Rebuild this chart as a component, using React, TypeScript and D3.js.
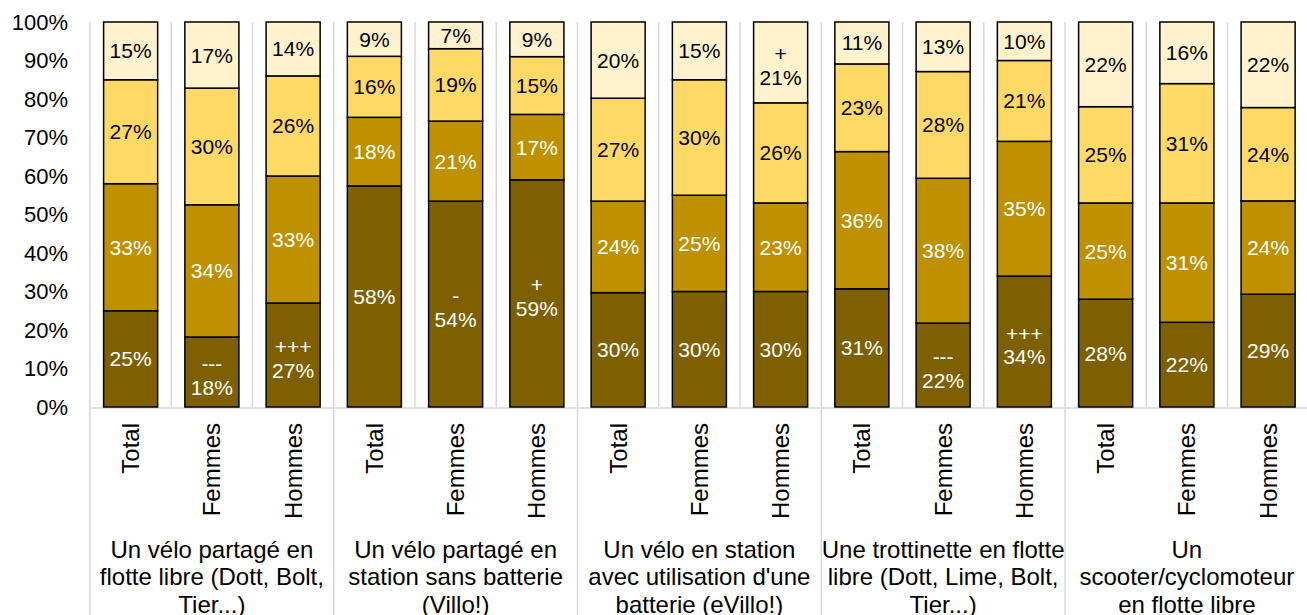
import React from "react";
import * as d3 from "d3";

const categories = ["Total", "Femmes", "Hommes"];
const groups = [
  ["Un vélo partagé en", "flotte libre (Dott, Bolt,", "Tier...)"],
  ["Un vélo partagé en", "station sans batterie", "(Villo!)"],
  ["Un vélo en station", "avec utilisation d'une", "batterie (eVillo!)"],
  ["Une trottinette en flotte", "libre (Dott, Lime, Bolt,", "Tier...)"],
  ["Un", "scooter/cyclomoteur", "en flotte libre"],
];
// series bottom -> top
const series1 = [25, 18, 27, 58, 54, 59, 30, 30, 30, 31, 22, 34, 28, 22, 29];
const series2 = [33, 34, 33, 18, 21, 17, 24, 25, 23, 36, 38, 35, 25, 31, 24];
const series3 = [27, 30, 26, 16, 19, 15, 27, 30, 26, 23, 28, 21, 25, 31, 24];
const series4 = [15, 17, 14, 9, 7, 9, 20, 15, 21, 11, 13, 10, 22, 16, 22];
// significance markers [barIndex, seriesIndex, marker]
const markers: [number, number, string][] = [
  [1, 0, "---"],
  [2, 0, "+++"],
  [4, 0, "-"],
  [5, 0, "+"],
  [8, 3, "+"],
  [10, 0, "---"],
  [11, 0, "+++"],
];
const yTicks = [0, 10, 20, 30, 40, 50, 60, 70, 80, 90, 100];

const colors = ["#7F6000", "#BF9000", "#FFD966", "#FFF2CC"];
const textColors = ["#ffffff", "#ffffff", "#000000", "#000000"];

const W = 1307;
const H = 615;
const left = 90;
const step = 81.25;
const top = 22;
const bottom = 407;
const FONT = "'Liberation Sans', Arial, sans-serif";
const FS = 21;
const FS_Y = 22;
const FS_CAT = 24;

export default function App() {
  const n = series1.length;
  const rows = d3.range(n).map((i) => ({
    i,
    s0: series1[i],
    s1: series2[i],
    s2: series3[i],
    s3: series4[i],
  }));
  const keys = ["s0", "s1", "s2", "s3"];
  const stacked = d3.stack<any>().keys(keys).offset(d3.stackOffsetExpand)(rows);
  const vals = [series1, series2, series3, series4];

  const x = d3
    .scaleBand<number>()
    .domain(d3.range(n))
    .range([left, left + n * step])
    .paddingInner(0.335)
    .paddingOuter(0.1675);
  const y = d3.scaleLinear().domain([0, 1]).range([bottom, top]);

  const markerMap = new Map<string, string>();
  markers.forEach(([b, s, m]) => markerMap.set(`${b}-${s}`, m));

  return (
    <svg
      width={W}
      height={H}
      style={{ position: "absolute", left: 0, top: 0, display: "block", background: "#fff" }}
      fontFamily={FONT}
    >
      {/* vertical gridlines */}
      {d3.range(n + 1).map((k) => (
        <line
          key={"g" + k}
          x1={left + k * step}
          x2={left + k * step}
          y1={top}
          y2={k % 3 === 0 ? H : bottom}
          stroke="#d9d9d9"
          strokeWidth={1.5}
        />
      ))}
      {/* horizontal axis line */}
      <line x1={left} x2={W} y1={bottom + 1} y2={bottom + 1} stroke="#d9d9d9" strokeWidth={1.5} />
      {/* y tick labels */}
      {yTicks.map((t) => (
        <text
          key={"yt" + t}
          x={68}
          y={y(t / 100) + 7.6}
          textAnchor="end"
          fontSize={FS_Y}
          fill="#000"
        >
          {t}%
        </text>
      ))}
      {/* bars */}
      {stacked.map((layer, si) =>
        layer.map((d, bi) => {
          const y0 = y(d[0]);
          const y1 = y(d[1]);
          const bx = x(bi)!;
          const bw = x.bandwidth();
          const cx = bx + bw / 2;
          const cy = (y0 + y1) / 2;
          const m = markerMap.get(`${bi}-${si}`);
          return (
            <g key={`b${si}-${bi}`}>
              <rect
                x={bx}
                y={y1}
                width={bw}
                height={y0 - y1}
                fill={colors[si]}
                stroke="#000"
                strokeWidth={1.5}
              />
              {m ? (
                <text textAnchor="middle" fontSize={FS} fill={textColors[si]}>
                  <tspan x={cx} y={cy - 1}>{m}</tspan>
                  <tspan x={cx} y={cy + 22.5}>{vals[si][bi]}%</tspan>
                </text>
              ) : (
                <text x={cx} y={cy + 7.5} textAnchor="middle" fontSize={FS} fill={textColors[si]}>
                  {vals[si][bi]}%
                </text>
              )}
            </g>
          );
        })
      )}
      {/* category labels */}
      {d3.range(n).map((i) => {
        const cx = x(i)! + x.bandwidth() / 2;
        return (
          <text
            key={"c" + i}
            transform={`translate(${cx},${423}) rotate(-90)`}
            textAnchor="end"
            dominantBaseline="central"
            fontSize={FS_CAT}
            fill="#000"
          >
            {categories[i % 3]}
          </text>
        );
      })}
      {/* group labels */}
      {groups.map((lines, g) => {
        const gx = left + (g * 3 + 1.5) * step;
        return (
          <text key={"grp" + g} textAnchor="middle" fontSize={FS_CAT} fill="#000">
            {lines.map((l, li) => (
              <tspan key={li} x={gx} y={558 + li * 27.3}>
                {l}
              </tspan>
            ))}
          </text>
        );
      })}
    </svg>
  );
}
